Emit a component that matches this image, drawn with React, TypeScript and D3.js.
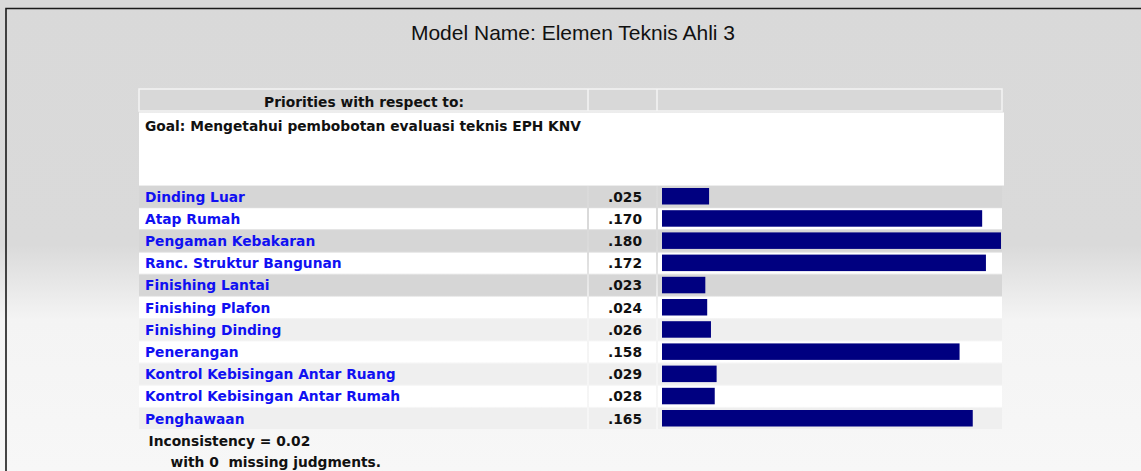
import React from 'react';
import * as d3 from 'd3';

const title = 'Model Name: Elemen Teknis Ahli 3';
const header = 'Priorities with respect to:';
const goal = 'Goal: Mengetahui pembobotan evaluasi teknis EPH KNV';
const criteria = [
    'Dinding Luar',
    'Atap Rumah',
    'Pengaman Kebakaran',
    'Ranc. Struktur Bangunan',
    'Finishing Lantai',
    'Finishing Plafon',
    'Finishing Dinding',
    'Penerangan',
    'Kontrol Kebisingan Antar Ruang',
    'Kontrol Kebisingan Antar Rumah',
    'Penghawaan',
];
const priorities = [0.025, 0.170, 0.180, 0.172, 0.023, 0.024, 0.026, 0.158, 0.029, 0.028, 0.165];
const footer1 = 'Inconsistency = 0.02';
const footer2 = 'with 0  missing judgments.';

const App = () => {
    const width = 1141;
    const height = 471;

    // table columns
    const colLabel = [139, 587];
    const colValue = [589, 656];
    const colBar = [658, 1002];

    // bar length scale
    const x = d3.scaleLinear().domain([0, d3.max(priorities)]).range([662, 1001]);

    // rows
    const y = d3.scaleBand()
        .domain(criteria)
        .range([186, 186 + criteria.length * 22.1])
        .paddingInner(0.05);

    const fmt = (v) => d3.format('.3f')(v).replace(/^0/, '');

    const rowFill = (i) => {
        if (i % 2 === 1) return '#ffffff';
        return i < 6 ? '#d6d6d6' : '#efefef';
    };

    const bold = { fontFamily: 'DejaVu Sans', fontWeight: 'bold', fontSize: 13.8 };

    return (
        <svg width={width} height={height} style={{ position: 'absolute', left: 0, top: 0 }}>
            <defs>
                <linearGradient id="bg" x1="0" y1="0" x2="0" y2="1">
                    <stop offset="0" stopColor="#d9d9d9" />
                    <stop offset="0.52" stopColor="#dadada" />
                    <stop offset="0.68" stopColor="#f4f4f4" />
                    <stop offset="1" stopColor="#f7f7f7" />
                </linearGradient>
            </defs>
            <rect x={0} y={0} width={width} height={height} fill="url(#bg)" />
            {/* frame */}
            <path d={`M6,${height + 2} V8.5 H${width + 2}`} fill="none" stroke="#1a1a1a" strokeWidth={1.6} />

            <text x={573} y={39.5} textAnchor="middle" fontFamily="Liberation Sans" fontSize={21} fill="#111">{title}</text>

            {/* header */}
            <rect x={colLabel[0]} y={89} width={colBar[1] - colLabel[0]} height={22} fill="#d8d8d8" stroke="#f4f4f4" strokeWidth={1.5} />
            <line x1={588} x2={588} y1={89} y2={111} stroke="#f4f4f4" strokeWidth={1.5} />
            <line x1={657} x2={657} y1={89} y2={111} stroke="#f4f4f4" strokeWidth={1.5} />
            <text x={(colLabel[0] + colLabel[1]) / 2 + 1} y={107} textAnchor="middle" {...bold} fill="#111">{header}</text>

            {/* goal */}
            <rect x={colLabel[0]} y={112.5} width={1004 - colLabel[0]} height={73} fill="#ffffff" />
            <text x={145} y={131} {...bold} fill="#111">{goal}</text>

            {criteria.map((c, i) => {
                const top = y(c);
                const h = y.bandwidth();
                const fill = rowFill(i);
                return (
                    <g key={c}>
                        <rect x={colLabel[0]} y={top} width={colLabel[1] - colLabel[0]} height={h} fill={fill} />
                        <rect x={colValue[0]} y={top} width={colValue[1] - colValue[0]} height={h} fill={fill} />
                        <rect x={colBar[0]} y={top} width={colBar[1] - colBar[0]} height={h} fill={fill} />
                        <text x={145} y={top + 15.5} {...bold} fill="#1010f2">{c}</text>
                        <text x={642} y={top + 15.5} textAnchor="end" {...bold} fill="#111">{fmt(priorities[i])}</text>
                        <rect x={x(0)} y={top + 2} width={x(priorities[i]) - x(0)} height={16.5} fill="#000080" />
                    </g>
                );
            })}

            <text x={148.5} y={446} {...bold} fill="#111">{footer1}</text>
            <text x={170.5} y={466.5} {...bold} fill="#111" style={{ whiteSpace: 'pre' }}>{footer2}</text>
        </svg>
    );
};

export default App;
